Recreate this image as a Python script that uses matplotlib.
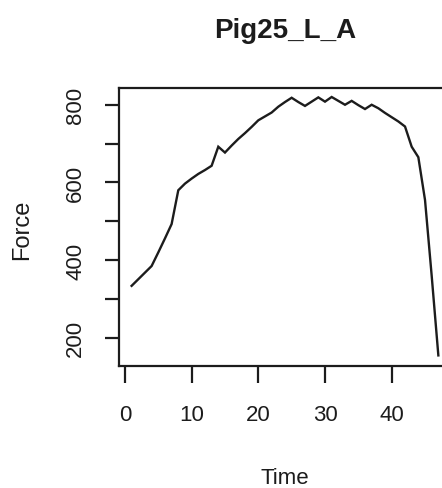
import matplotlib
matplotlib.use("Agg")
import matplotlib.pyplot as plt
from matplotlib.ticker import MultipleLocator, FuncFormatter

plt.rcParams["font.family"] = ["Liberation Sans", "DejaVu Sans"]

# Force trace for one specimen, sampled once per time step
time = list(range(1, 48))
force = [334, 351, 368, 385, 420, 456, 493, 580, 597, 610,
         622, 632, 643, 692, 677, 695, 712, 727, 743, 760,
         770, 780, 795, 807, 818, 807, 797, 808, 819, 808,
         820, 810, 800, 810, 799, 789, 800, 791, 779, 768,
         757, 744, 692, 665, 555, 360, 155]

title = "Pig25_L_A"
x_label = "Time"
y_label = "Force"
x_ticks = [0, 10, 20, 30, 40]
y_labelled = [200, 400, 600, 800]

ink = "#1c1c1c"

fig = plt.figure(figsize=(4.42, 4.89), dpi=100)
ax = fig.add_axes([0.270, 0.2489, 0.7495, 0.569])

ax.plot(time, force, color=ink, lw=1.7, solid_joinstyle="miter")

ax.set_xlim(-0.84, 48.84)
ax.set_ylim(127, 843)

ax.set_xticks(x_ticks)
ax.yaxis.set_major_locator(MultipleLocator(100))
ax.yaxis.set_major_formatter(
    FuncFormatter(lambda v, _: f"{int(v)}" if int(round(v)) in y_labelled else ""))

for side in ax.spines.values():
    side.set_linewidth(1.6)
    side.set_color(ink)

ax.tick_params(axis="x", length=12, width=1.6, pad=15, labelsize=16,
               colors=ink, direction="out")
ax.tick_params(axis="y", length=10, width=1.6, pad=14, labelsize=16,
               colors=ink, direction="out", labelrotation=90)
for lbl in ax.get_yticklabels():
    lbl.set_va("center")

ax.set_xlabel(x_label, fontsize=16, color=ink)
ax.xaxis.set_label_coords(0.5, -0.40)
ax.xaxis.label.set_va("center")
ax.set_ylabel(y_label, fontsize=17, color=ink)
ax.yaxis.set_label_coords(-0.2937, 0.493)
ax.yaxis.label.set_va("center")

ax.text(0.5, 1.210, title, transform=ax.transAxes, ha="center", va="center",
        fontsize=20, fontweight="bold", color=ink)

fig.savefig("out.png", dpi=100, facecolor="white")
